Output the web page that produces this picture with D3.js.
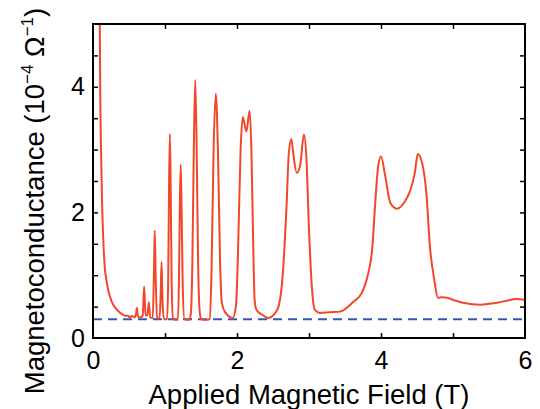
<!DOCTYPE html>
<html>
<head>
<meta charset="utf-8">
<script src="https://cdn.jsdelivr.net/npm/d3@7"></script>
<style>
  html, body { margin: 0; padding: 0; background: #fff; }
  svg { display: block; font-family: "Liberation Sans", Arial, sans-serif; }
</style>
</head>
<body>
<div id="content"></div>
<script>
// Données

var field = [
  0.05, 0.085, 0.095, 0.10, 0.115, 0.125, 0.143, 0.167, 0.18, 0.21, 0.26, 0.33, 0.42,
  0.45, 0.48, 0.51, 0.54, 0.56, 0.58, 0.60, 0.61, 0.625, 0.66, 0.69, 0.71, 0.73,
  0.755, 0.775, 0.795, 0.83, 0.847, 0.858, 0.87, 0.89, 0.925, 0.94, 0.952, 0.965, 0.985,
  1.03, 1.045, 1.056, 1.068, 1.08, 1.092, 1.11,
  1.18, 1.195, 1.207, 1.218, 1.23, 1.245, 1.27,
  1.34, 1.36, 1.38, 1.40, 1.42, 1.44, 1.46, 1.48, 1.5,
  1.59, 1.62, 1.645, 1.675, 1.705, 1.735, 1.765, 1.79, 1.83, 1.94,
  1.985, 2.01, 2.05, 2.08, 2.13, 2.175, 2.2, 2.225, 2.245, 2.27, 2.35, 2.43,
  2.56, 2.64, 2.69, 2.72, 2.755, 2.78, 2.83, 2.875, 2.93, 2.965, 3.0, 3.04, 3.08, 3.15, 3.29, 3.43,
  3.61, 3.74, 3.81, 3.88, 3.92, 3.96, 4.0, 4.06, 4.13, 4.22, 4.33, 4.40, 4.47, 4.51, 4.57, 4.63,
  4.68, 4.74, 4.79, 4.85, 4.92, 5.0, 5.14, 5.38, 5.61, 5.89, 6.0
];

var conductance = [
  6.0, 5.3, 4.9, 4.0, 2.8, 2.2, 1.56, 1.08, 0.97, 0.77, 0.58, 0.45, 0.37,
  0.35, 0.36, 0.33, 0.35, 0.34, 0.33, 0.40, 0.48, 0.34, 0.33, 0.36, 0.82, 0.36,
  0.36, 0.57, 0.33, 0.32, 1.1, 1.71, 1.0, 0.32, 0.31, 0.7, 1.21, 0.6, 0.30,
  0.30, 1.0, 2.4, 3.25, 2.3, 0.9, 0.30,
  0.29, 1.0, 2.2, 2.76, 2.1, 0.9, 0.30,
  0.29, 0.4, 1.2, 3.0, 4.11, 3.0, 1.2, 0.45, 0.30,
  0.29, 0.3, 1.0, 3.0, 3.89, 3.0, 1.2, 0.56, 0.42, 0.32,
  0.5, 1.2, 3.0, 3.52, 3.29, 3.62, 3.0, 1.5, 0.6, 0.45, 0.37, 0.32,
  0.45, 1.08, 2.15, 2.95, 3.17, 2.95, 2.63, 2.73, 3.24, 2.84, 1.72, 0.81, 0.45, 0.40, 0.41, 0.42,
  0.57, 0.73, 0.97, 1.45, 2.15, 2.73, 2.89, 2.57, 2.15, 2.06, 2.17, 2.33, 2.63, 2.93, 2.79, 2.31,
  1.45, 0.93, 0.64, 0.65, 0.64, 0.61, 0.56, 0.53, 0.56, 0.62, 0.61
];

var baseline = 0.3;

var xLabels = [0, 2, 4, 6],
    xMinor  = [1, 2, 3, 4, 5],
    yLabels = [0, 2, 4],
    yMinor  = [0.5, 1, 1.5, 2, 2.5, 3, 3.5, 4, 4.5];

// Paramètres graphiques

var width  = 540,
    height = 409,
    mLeft = 93, mRight = 525, mTop = 24, mBottom = 338;

var svg = d3.select("#content").append("svg")
    .attr("width", width)
    .attr("height", height);

var x = d3.scaleLinear().domain([0, 6]).range([mLeft, mRight]),
    y = d3.scaleLinear().domain([0, 5]).range([mBottom, mTop]);

svg.append("clipPath").attr("id", "plot")
  .append("rect")
    .attr("x", mLeft).attr("y", mTop)
    .attr("width", mRight - mLeft).attr("height", mBottom - mTop);

// Ligne de base (tirets)
svg.append("line")
    .attr("x1", x(0)).attr("x2", x(6))
    .attr("y1", y(baseline)).attr("y2", y(baseline))
    .attr("stroke", "#3557b8")
    .attr("stroke-width", 2)
    .attr("stroke-dasharray", "9,6");

// Courbe
var points = field.map((f, i) => [f, conductance[i]]);

svg.append("path")
    .datum(points)
    .attr("clip-path", "url(#plot)")
    .attr("fill", "none")
    .attr("stroke", "#f2472a")
    .attr("stroke-width", 2)
    .attr("stroke-linejoin", "round")
    .attr("d", d3.line()
      .x(d => x(d[0]))
      .y(d => y(d[1]))
      .curve(d3.curveMonotoneX));

// Axes (graduations vers l'intérieur)
function ticksOnly(g) {
  g.select(".domain").remove();
  g.selectAll("line").attr("stroke", "#000").attr("stroke-width", 1.5);
}

svg.append("g").attr("transform", "translate(0," + mBottom + ")")
    .call(d3.axisBottom(x).tickValues(xMinor).tickSize(-5).tickFormat(""))
    .call(ticksOnly);
svg.append("g").attr("transform", "translate(0," + mTop + ")")
    .call(d3.axisTop(x).tickValues(xMinor).tickSize(-5).tickFormat(""))
    .call(ticksOnly);
svg.append("g").attr("transform", "translate(" + mLeft + ",0)")
    .call(d3.axisLeft(y).tickValues(yMinor).tickSize(-5).tickFormat(""))
    .call(ticksOnly);
svg.append("g").attr("transform", "translate(" + mRight + ",0)")
    .call(d3.axisRight(y).tickValues(yMinor).tickSize(-5).tickFormat(""))
    .call(ticksOnly);

// Étiquettes
var xLab = svg.append("g").attr("transform", "translate(0," + mBottom + ")")
    .call(d3.axisBottom(x).tickValues(xLabels).tickSize(0).tickFormat(d3.format("d")));
xLab.select(".domain").remove();
xLab.selectAll("text")
    .attr("y", 31).attr("dy", 0)
    .attr("font-size", 25).attr("fill", "#000")
    .attr("font-family", "Liberation Sans, Arial, sans-serif");

var yLab = svg.append("g").attr("transform", "translate(" + mLeft + ",0)")
    .call(d3.axisLeft(y).tickValues(yLabels).tickSize(0).tickPadding(8).tickFormat(d3.format("d")));
yLab.select(".domain").remove();
yLab.selectAll("text")
    .attr("font-size", 25).attr("fill", "#000")
    .attr("font-family", "Liberation Sans, Arial, sans-serif");

// Cadre
svg.append("rect")
    .attr("x", mLeft).attr("y", mTop)
    .attr("width", mRight - mLeft).attr("height", mBottom - mTop)
    .attr("fill", "none")
    .attr("stroke", "#000")
    .attr("stroke-width", 2);

// Titres
svg.append("text")
    .attr("x", (mLeft + mRight) / 2)
    .attr("y", 404)
    .attr("text-anchor", "middle")
    .attr("font-size", 27.5)
    .text("Applied Magnetic Field (T)");

var yTitle = svg.append("text")
    .attr("transform", "translate(44,201) rotate(-90)")
    .attr("text-anchor", "middle")
    .attr("font-size", 27.5);
yTitle.append("tspan").text("Magnetoconductance (10");
yTitle.append("tspan").attr("dy", -11).attr("font-size", 17).text("\u22124");
yTitle.append("tspan").attr("dy", 11).text(" \u03a9");
yTitle.append("tspan").attr("dy", -11).attr("font-size", 17).text("\u22121");
yTitle.append("tspan").attr("dy", 11).text(")");
</script>
</body>
</html>
